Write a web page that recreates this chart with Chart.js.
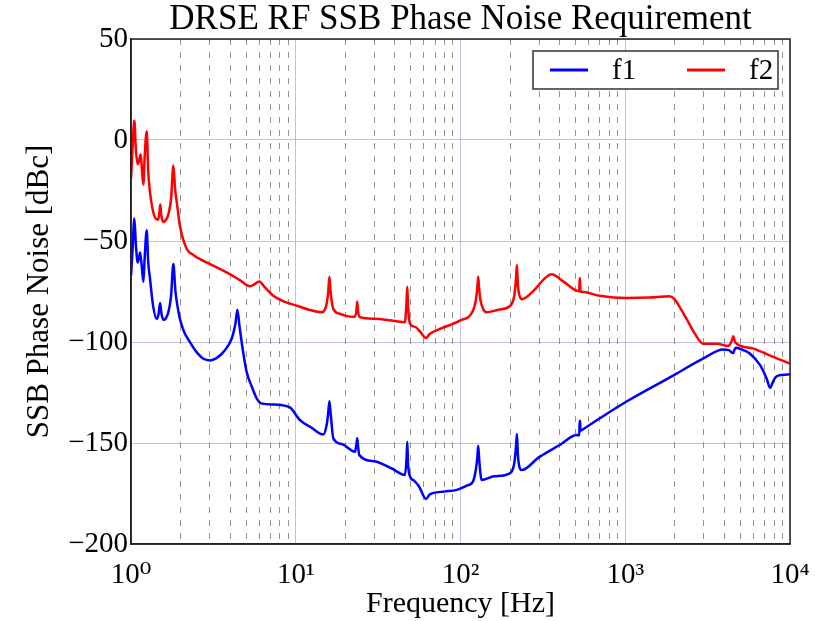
<!DOCTYPE html>
<html>
<head>
<meta charset="utf-8">
<title>DRSE RF SSB Phase Noise Requirement</title>
<script src="https://cdn.jsdelivr.net/npm/chart.js@4.4.1/dist/chart.umd.min.js"></script>
<style>
  html, body { margin: 0; padding: 0; background: #fff; }
</style>
</head>
<body>
<canvas id="noiseChart" width="815" height="621"></canvas>
<script>
// Frequencies [Hz] and SSB phase noise [dBc]
const freqF1 = [
    1.00, 1.02, 1.047, 1.07, 1.098, 1.12, 1.134, 1.16, 1.188, 1.21, 1.245, 1.27, 1.304, 1.36, 1.432,
    1.47, 1.5, 1.53, 1.571, 1.62, 1.684, 1.75, 1.806, 1.86, 1.92, 1.98, 2.1, 2.28, 2.5, 2.75,
    3.02, 3.3, 3.63, 4.08, 4.3, 4.42, 4.55, 4.75, 5.03, 5.4, 5.8, 6.24, 7.5, 9.2, 10.6,
    12.5, 14.7, 15.4, 15.7, 16.0, 16.3, 16.9, 19, 22.9, 23.3, 23.6, 23.9, 24.3, 30, 38,
    46, 47.0, 47.5, 48.0, 49.4, 52, 56, 61.7, 65, 68, 80, 95, 110, 119, 124,
    126.5, 128, 129.5, 132, 134, 160, 199, 212, 217, 220, 223, 228, 235, 300, 400,
    507, 526, 528, 532, 534, 544, 697, 1012, 1965, 3000, 3930, 4250, 4520, 4620, 4700,
    5200, 5720, 6600, 7200, 7580, 7900, 8200, 9000, 10000
];
const noiseF1 = [
    -67.2, -55, -38.9, -52, -60.6, -58, -55.7, -62, -70.2, -58, -44.7, -60, -68.8, -82, -88.6,
    -86, -80.7, -86, -89, -88.5, -85.3, -77, -61.4, -75, -83, -88.6, -95, -100.1, -105, -108.3,
    -109.1, -108, -105, -98.4, -91, -84, -92, -103, -114.8, -122, -128, -130.5, -131, -132.4, -138.7,
    -142.5, -145.8, -141, -136, -129.3, -136, -147.7, -150.5, -154.3, -151, -147.7, -152, -156, -159, -162.5,
    -165.8, -158, -149.4, -160, -166.6, -168.5, -171.5, -177.7, -175.5, -174.8, -174, -173.2, -171, -169.1, -163,
    -157, -151.3, -157, -165, -168.3, -166.5, -165, -160, -152, -145.6, -156, -162, -163.4, -157, -151,
    -146.1, -146.2, -139, -139, -144, -143.6, -137.9, -129.6, -116.5, -108, -103.7, -104, -105.5, -103.5, -102.9,
    -104, -105.8, -111.6, -118, -122.7, -119.5, -117.3, -116.3, -116
];
const freqF2 = [
    1.00, 1.02, 1.047, 1.07, 1.098, 1.12, 1.145, 1.165, 1.188, 1.21, 1.245, 1.27, 1.304, 1.35, 1.40,
    1.46, 1.49, 1.506, 1.525, 1.571, 1.63, 1.684, 1.75, 1.806, 1.85, 1.91, 1.98, 2.18, 2.4, 2.62,
    3.02, 3.5, 4.0, 4.6, 5.27, 5.6, 6.0, 6.5, 7.3, 8.5, 10.1, 12.0, 14.4, 15.3, 15.7,
    16.0, 16.3, 16.9, 18.5, 20.4, 22.8, 23.3, 23.6, 23.9, 24.5, 30, 38, 46, 47.0, 47.5,
    48.0, 49.4, 53, 57, 61.7, 65, 75, 99, 119, 124, 126.5, 128, 129.5, 132, 137,
    144, 170, 199, 212, 217, 220, 223, 228, 235, 277, 320, 357, 420, 507, 526,
    528, 532, 534, 544, 697, 1012, 1400, 1850, 1985, 2150, 2355, 2650, 2980, 3620, 4200,
    4450, 4520, 4620, 4750, 6000, 7900, 10000
];
const noiseF2 = [
    -19, -5, 9.7, -5, -12, -10, -7, -15, -22, -8, 4.3, -15, -26, -34, -38.5,
    -39.5, -35, -31.9, -37, -40.6, -39.5, -36.8, -29, -12.6, -24, -33, -42.6, -54, -57, -59,
    -61.4, -64, -66.5, -69.5, -72.4, -71.5, -70, -73, -77.1, -80, -82, -84, -85.3, -82, -76,
    -67.7, -76, -83.6, -86, -87.2, -87.5, -85, -80, -85, -87.7, -88.5, -89.3, -90.2, -80, -72.6,
    -82, -91, -92.5, -95, -98, -96, -93.5, -89.4, -84.5, -79, -73, -67.7, -73, -79, -83.5,
    -85.3, -84, -82.3, -77, -69, -61.9, -72, -77, -78.8, -74.7, -69, -66.5, -70, -74.6, -74.8,
    -68.5, -68.5, -75, -75.1, -77.1, -78.2, -78, -77.4, -78.7, -83, -88.6, -96, -100.9, -100.9, -102,
    -99, -97.1, -99.5, -100.9, -103.3, -107.4, -110.7
];

// Axis ticks
const yTicks = [-200, -150, -100, -50, 0, 50];
const xDecades = [1, 10, 100, 1000, 10000];
const xDecadeLabels = ['10\u2070', '10\u00B9', '10\u00B2', '10\u00B3', '10\u2074'];

// Dashed minor grid positions (2..9 in every decade)
const xMinor = [];
xDecades.slice(0, -1).forEach(d => {
    for (let k = 2; k <= 9; k++) xMinor.push(d * k);
});

const serif = "'Liberation Serif', 'DejaVu Serif', serif";
const gridBlue = 'rgba(140, 140, 210, 0.55)';
const minorGray = 'rgba(0, 0, 0, 0.42)';

function toPoints(xs, ys) {
    return xs.map((x, i) => ({ x: x, y: ys[i] }));
}

// Black frame round the plot area and a boxed legend in its upper right corner
const framePlugin = {
    id: 'frame',
    afterDatasetsDraw(chart) {
        const ctx = chart.ctx;
        const a = chart.chartArea;

        // legend box
        const left = a.right - 257;
        const right = a.right - 12;
        const top = a.top + 12;
        const bottom = a.top + 50;
        const midY = (top + bottom) / 2;
        ctx.save();
        ctx.fillStyle = '#fff';
        ctx.fillRect(left, top, right - left, bottom - top);
        ctx.strokeStyle = '#333';
        ctx.lineWidth = 1.5;
        ctx.strokeRect(left, top, right - left, bottom - top);
        ctx.font = '29px ' + serif;
        ctx.textBaseline = 'middle';
        ctx.fillStyle = '#000';
        chart.data.datasets.forEach((ds, i) => {
            const x0 = left + 17 + i * 137;
            ctx.strokeStyle = ds.borderColor;
            ctx.lineWidth = 3;
            ctx.beginPath();
            ctx.moveTo(x0, midY);
            ctx.lineTo(x0 + 38, midY);
            ctx.stroke();
            ctx.fillText(ds.label, x0 + 62, midY + 1);
        });
        ctx.restore();

        // plot frame
        ctx.save();
        ctx.strokeStyle = '#222';
        ctx.lineWidth = 1.5;
        ctx.strokeRect(a.left, a.top, a.right - a.left, a.bottom - a.top);
        ctx.restore();
    }
};

const ctx = document.getElementById('noiseChart').getContext('2d');
new Chart(ctx, {
    type: 'line',
    data: {
        datasets: [{
            label: 'f1',
            data: toPoints(freqF1, noiseF1),
            borderColor: '#0000ff',
            backgroundColor: '#0000ff',
            borderWidth: 2.5,
            pointRadius: 0,
            cubicInterpolationMode: 'monotone'
        }, {
            label: 'f2',
            data: toPoints(freqF2, noiseF2),
            borderColor: '#ff0000',
            backgroundColor: '#ff0000',
            borderWidth: 2.5,
            pointRadius: 0,
            cubicInterpolationMode: 'monotone'
        }]
    },
    options: {
        responsive: false,
        animation: false,
        layout: { autoPadding: false, padding: { left: 21, right: 25, top: 0, bottom: 2 } },
        plugins: {
            title: {
                display: true,
                fullSize: false,
                text: 'DRSE RF SSB Phase Noise Requirement',
                color: '#000',
                font: { family: serif, size: 35, weight: 'normal', lineHeight: 1.0 },
                padding: { top: 2, bottom: 2 }
            },
            legend: { display: false },
            tooltip: { enabled: false }
        },
        scales: {
            x: {
                type: 'logarithmic',
                min: 1,
                max: 10000,
                afterBuildTicks(scale) {
                    scale.ticks = xDecades.map(v => ({ value: v, major: true }));
                },
                ticks: {
                    autoSkip: false,
                    maxRotation: 0,
                    color: '#000',
                    padding: 2,
                    font: { family: serif, size: 29, lineHeight: 2.0 },
                    callback(value) {
                        return xDecadeLabels[xDecades.indexOf(value)];
                    }
                },
                grid: { color: gridBlue, lineWidth: 1, drawTicks: false },
                border: { color: '#222', width: 1.5 },
                title: {
                    display: true,
                    text: 'Frequency [Hz]',
                    color: '#000',
                    font: { family: serif, size: 30, lineHeight: 1.0 },
                    padding: { top: -17, bottom: 0 }
                }
            },
            xMinor: {
                type: 'logarithmic',
                position: 'bottom',
                min: 1,
                max: 10000,
                afterBuildTicks(scale) {
                    scale.ticks = xMinor.map(v => ({ value: v }));
                },
                ticks: { display: false, autoSkip: false },
                grid: { color: minorGray, lineWidth: 1, drawTicks: false },
                border: { display: false, dash: [6, 7] }
            },
            y: {
                type: 'linear',
                min: -200,
                max: 50,
                afterBuildTicks(scale) {
                    scale.ticks = yTicks.map(v => ({ value: v }));
                },
                ticks: {
                    color: '#000',
                    padding: 3,
                    font: { family: serif, size: 29 },
                    callback(value) {
                        return value < 0 ? '\u2212' + Math.abs(value) : String(value);
                    }
                },
                grid: { color: gridBlue, lineWidth: 1, drawTicks: false },
                border: { color: '#222', width: 1.5 },
                title: {
                    display: true,
                    text: 'SSB Phase Noise [dBc]',
                    color: '#000',
                    font: { family: serif, size: 31 },
                    padding: { top: 0, bottom: 7 }
                }
            }
        }
    },
    plugins: [framePlugin]
});
</script>
</body>
</html>
